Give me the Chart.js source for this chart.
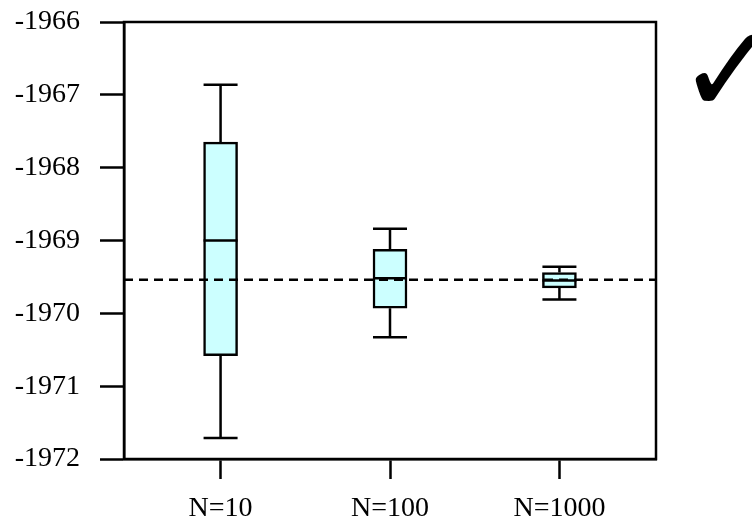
<!DOCTYPE html>
<html>
<head>
<meta charset="utf-8">
<script src="https://cdn.jsdelivr.net/npm/chart.js@4.4.1/dist/chart.umd.min.js"></script>
<style>
  html, body { margin: 0; padding: 0; background: #fff; }
  #wrap { position: relative; width: 752px; height: 525px; }
</style>
</head>
<body>
<div id="wrap"><canvas id="boxChart" width="752" height="525"></canvas></div>
<script>
// --- Data ---
const categories = ['N=10', 'N=100', 'N=1000'];
const positions = [1, 2, 3];
const whiskerLow = [-1971.71, -1970.33, -1969.81];
const boxLow = [-1970.58, -1969.93, -1969.65];
const medians = [-1969.00, -1969.52, -1969.55];
const boxHigh = [-1967.65, -1969.12, -1969.44];
const whiskerHigh = [-1966.86, -1968.84, -1969.36];
const referenceValue = -1969.54;
const yTicks = [-1972, -1971, -1970, -1969, -1968, -1967, -1966];

const X_MIN = 0.43;
const X_MAX = 3.57;
const BOX_WIDTH = 34;
const LINE_W = 2.5;
const FONT = '"Liberation Serif", "DejaVu Serif", serif';

// --- Plugins ---
// whiskers, caps and medians drawn through the chart scales
const whiskerPlugin = {
    id: 'whiskers',
    afterDatasetsDraw(chart) {
        const { ctx, scales: { x, y } } = chart;
        ctx.save();
        ctx.strokeStyle = '#000';
        ctx.lineWidth = LINE_W;
        positions.forEach((p, i) => {
            const cx = x.getPixelForValue(p);
            const half = BOX_WIDTH / 2;
            const yLo = y.getPixelForValue(whiskerLow[i]);
            const yHi = y.getPixelForValue(whiskerHigh[i]);
            const bLo = y.getPixelForValue(boxLow[i]);
            const bHi = y.getPixelForValue(boxHigh[i]);
            const med = y.getPixelForValue(medians[i]);
            ctx.beginPath();
            ctx.moveTo(cx, yHi); ctx.lineTo(cx, bHi);
            ctx.moveTo(cx, bLo); ctx.lineTo(cx, yLo);
            ctx.moveTo(cx - half, yHi); ctx.lineTo(cx + half, yHi);
            ctx.moveTo(cx - half, yLo); ctx.lineTo(cx + half, yLo);
            ctx.moveTo(cx - half, med); ctx.lineTo(cx + half, med);
            ctx.stroke();
        });
        ctx.restore();
    }
};

// box frame (top and right edges) plus the check mark
const framePlugin = {
    id: 'frame',
    afterDraw(chart) {
        const { ctx, chartArea: a } = chart;
        ctx.save();
        ctx.strokeStyle = '#000';
        ctx.lineWidth = LINE_W;
        ctx.strokeRect(a.left, a.top, a.right - a.left, a.bottom - a.top);
        ctx.fillStyle = '#000';
        ctx.font = '125px "DejaVu Sans"';
        ctx.textBaseline = 'alphabetic';
        ctx.fillText('\u2713', 677, 113);
        ctx.restore();
    }
};

// --- Chart ---
const ctx = document.getElementById('boxChart').getContext('2d');

new Chart(ctx, {
    type: 'bar',
    data: {
        datasets: [
            {
                type: 'line',
                data: [{ x: X_MIN, y: referenceValue }, { x: X_MAX, y: referenceValue }],
                borderColor: '#000',
                borderWidth: LINE_W,
                borderDash: [9, 6],
                pointRadius: 0,
                order: 0
            },
            {
                type: 'bar',
                data: positions.map((p, i) => ({ x: p, y: [boxLow[i], boxHigh[i]] })),
                backgroundColor: '#ccffff',
                borderColor: '#000',
                borderWidth: LINE_W,
                borderSkipped: false,
                barThickness: BOX_WIDTH,
                order: 1
            }
        ]
    },
    options: {
        responsive: false,
        animation: false,
        layout: { padding: { left: 0, right: 96, top: 22, bottom: 0 } },
        plugins: {
            legend: { display: false },
            tooltip: { enabled: false }
        },
        scales: {
            x: {
                type: 'linear',
                min: X_MIN,
                max: X_MAX,
                offset: false,
                afterBuildTicks: (scale) => { scale.ticks = positions.map(v => ({ value: v })); },
                afterFit: (scale) => {
                    scale.height = 66;
                    scale.paddingLeft = 0;
                    scale.paddingRight = 0;
                },
                grid: {
                    offset: false,
                    drawOnChartArea: false,
                    drawTicks: true,
                    tickLength: 20,
                    tickWidth: LINE_W,
                    tickColor: '#000'
                },
                border: { display: true, color: '#000', width: LINE_W },
                ticks: {
                    color: '#000',
                    font: { family: FONT, size: 28 },
                    padding: 13,
                    maxRotation: 0,
                    callback: (v) => categories[positions.indexOf(v)]
                }
            },
            y: {
                type: 'linear',
                min: -1972,
                max: -1966,
                afterBuildTicks: (scale) => { scale.ticks = yTicks.map(v => ({ value: v })); },
                afterFit: (scale) => {
                    scale.width = 124;
                    scale.paddingTop = 0;
                    scale.paddingBottom = 0;
                },
                grid: {
                    drawOnChartArea: false,
                    drawTicks: true,
                    tickLength: 24,
                    tickWidth: LINE_W,
                    tickColor: '#000'
                },
                border: { display: true, color: '#000', width: LINE_W },
                ticks: {
                    color: '#000',
                    font: { family: FONT, size: 28 },
                    padding: 20,
                    callback: (v) => String(v)
                }
            }
        }
    },
    plugins: [whiskerPlugin, framePlugin]
});
</script>
</body>
</html>
